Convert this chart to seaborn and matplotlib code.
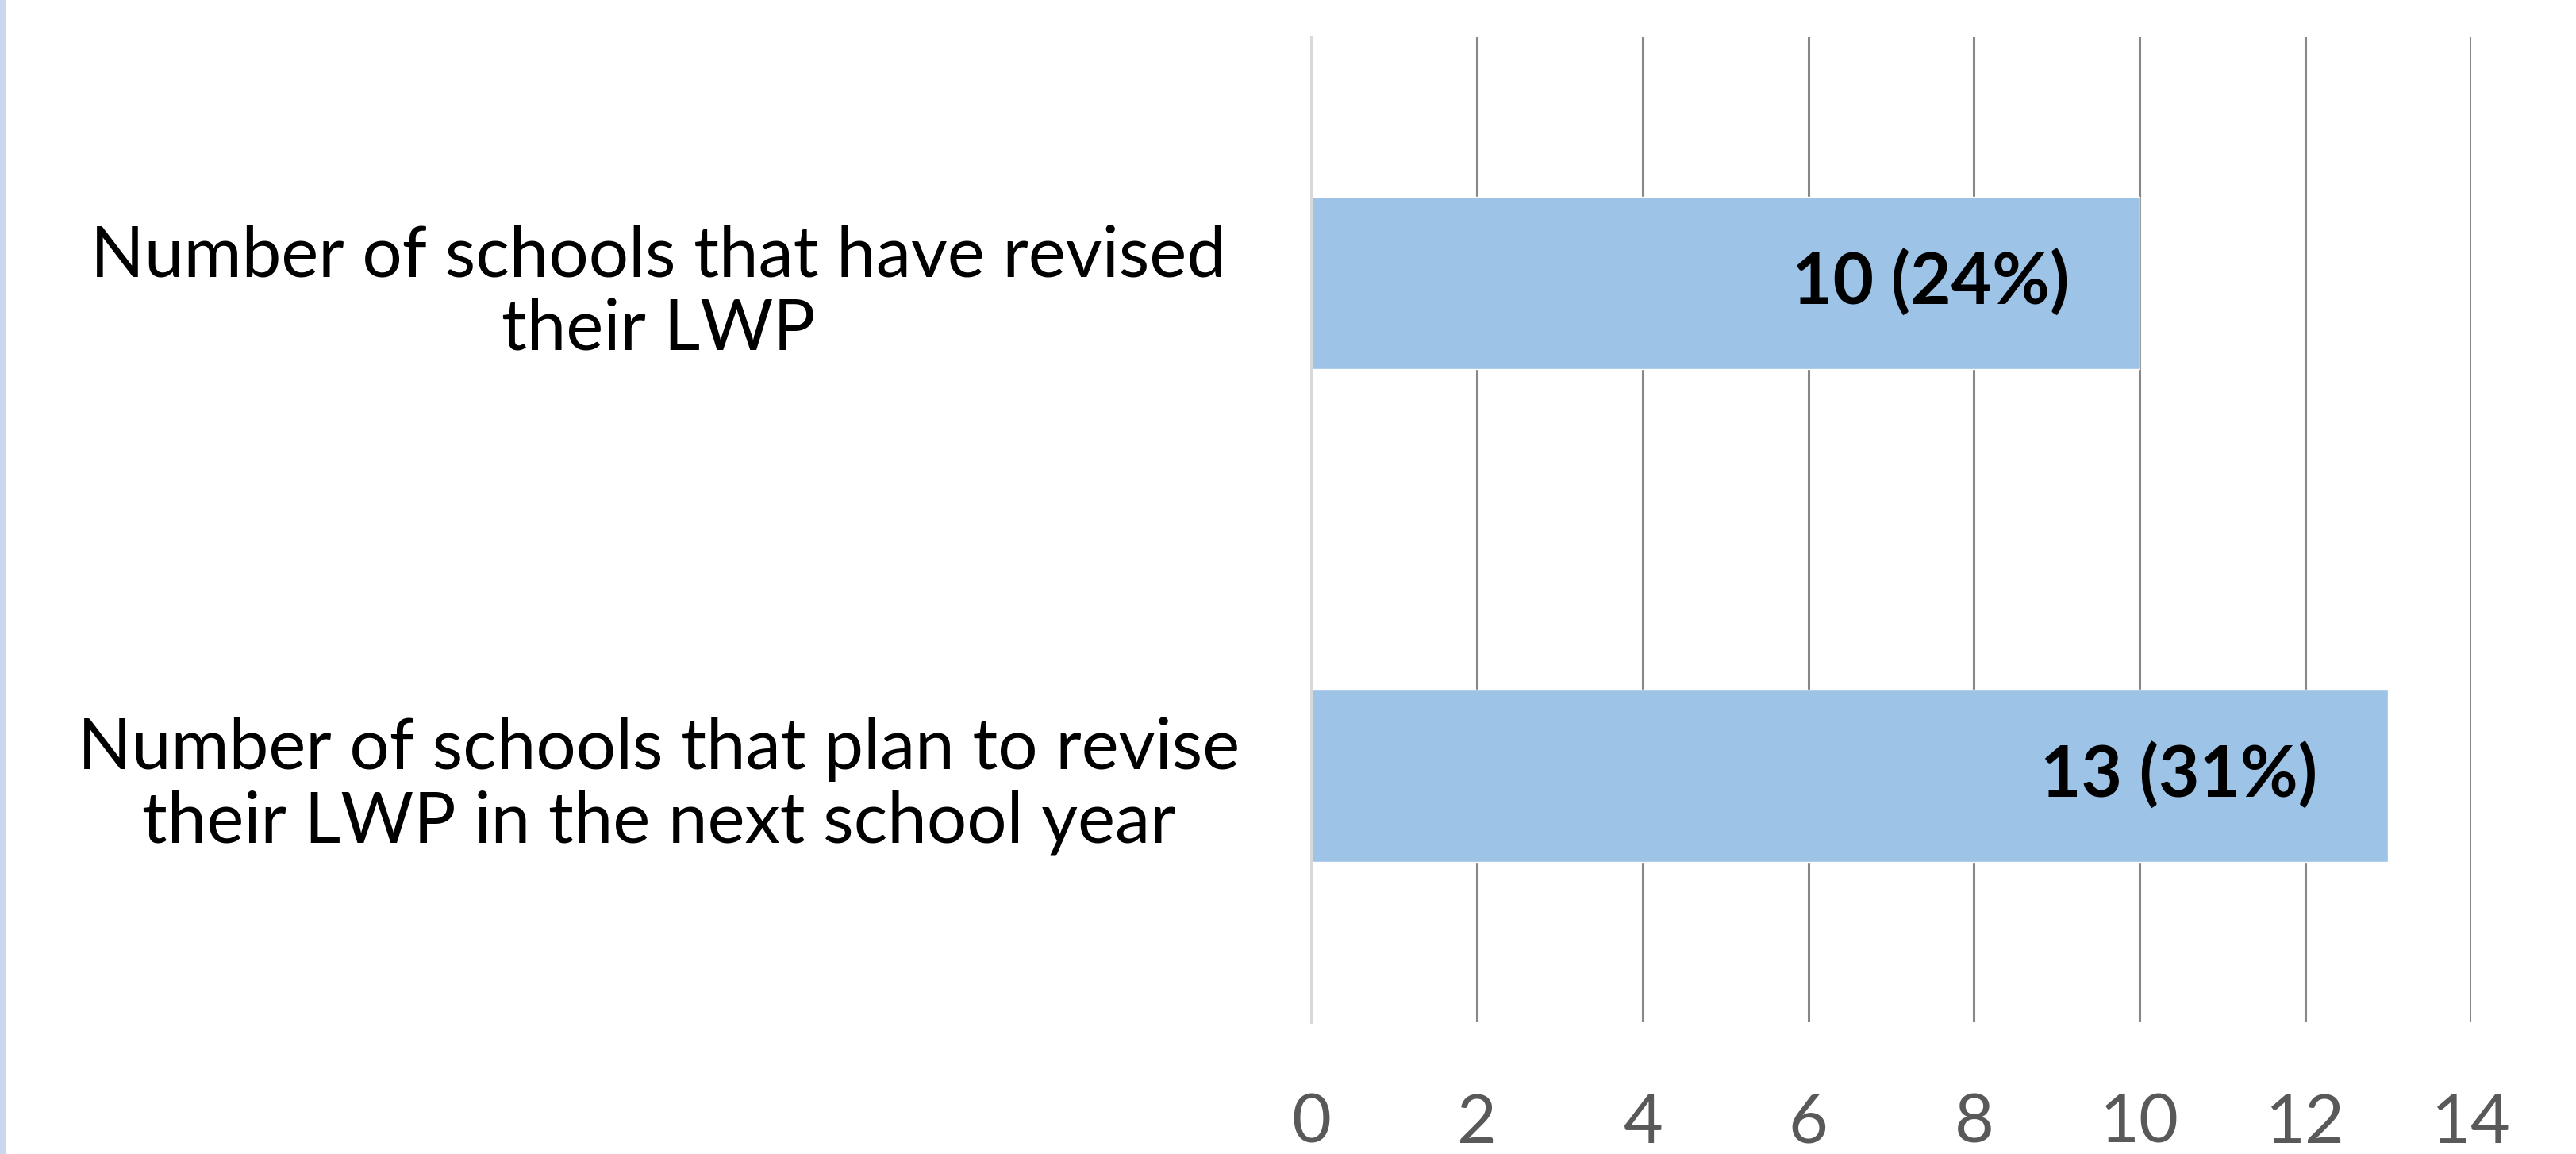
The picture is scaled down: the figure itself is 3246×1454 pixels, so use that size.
import numpy as np
import pandas as pd
import matplotlib
matplotlib.use("Agg")
import matplotlib.pyplot as plt
import seaborn as sns
from matplotlib.patches import Rectangle

# ================= Data =================
categories = ["Number of schools that have revised\ntheir LWP",
              "Number of schools that plan to revise\ntheir LWP in the next school year"]
counts = [10, 13]
percents = [24, 31]
x_ticks = [0, 2, 4, 6, 8, 10, 12, 14]

bar_color = "#9DC3E6"
grid_color = "#878787"

sns.set_theme(style="white")
plt.rcParams["font.family"] = ["Lato", "DejaVu Sans"]

df = pd.DataFrame({"Category": categories, "Count": counts})

fig = plt.figure(figsize=(32.46, 14.54), dpi=100)
ax = fig.add_axes([0.509, 0.1142, 0.9593 - 0.509, 0.9684 - 0.1142])

sns.barplot(data=df, x="Count", y="Category", orient="h", color=bar_color,
            saturation=1, width=0.35, ax=ax)

# value labels just inside the bar end
for i, (c, p) in enumerate(zip(counts, percents)):
    ax.annotate(f"{c} ({p}%)", xy=(c, i), xytext=(-64, 0), textcoords="offset points",
                ha="right", va="center", fontsize=64, fontweight="bold", color="black")

ax.set_xlim(0, 14)
ax.set_xticks(x_ticks)
ax.set_xlabel(None)
ax.set_ylabel(None)
ax.set_axisbelow(True)
ax.grid(axis="x", color=grid_color, linewidth=2.2)
ax.grid(axis="y", visible=False)
ax.xaxis.get_gridlines()[0].set_color("#d9d9d9")

for side in ["top", "right", "bottom"]:
    ax.spines[side].set_visible(False)
ax.spines["left"].set_color("#d9d9d9")
ax.spines["left"].set_linewidth(2.2)

ax.tick_params(axis="x", length=0, pad=64, labelsize=62, labelcolor="#595959")
ax.tick_params(axis="y", length=0, pad=592, labelsize=64, labelcolor="black")
for lab in ax.get_yticklabels():
    lab.set_horizontalalignment("center")
    lab.set_multialignment("center")
    lab.set_linespacing(1.15)

# thin blue strip at the left edge of the slide
fig.patches.append(Rectangle((0, 0), 6 / 3246, 1, transform=fig.transFigure,
                             color="#C9D7EF", zorder=0))

fig.savefig("out.png", dpi=100)
